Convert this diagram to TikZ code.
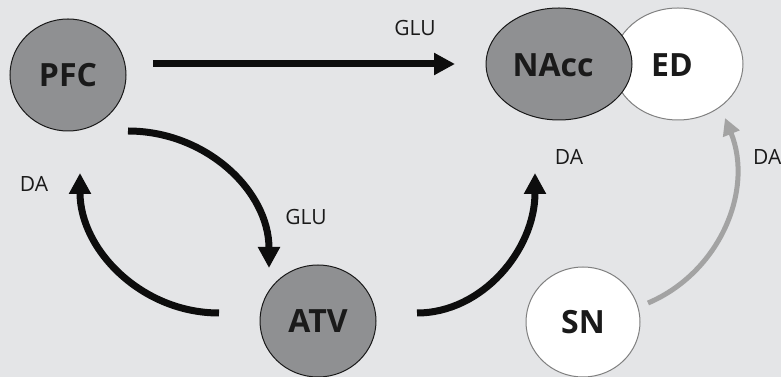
\documentclass[tikz,border=0pt]{standalone}
\usepackage{fontspec}
\setmainfont{Open Sans}
\usetikzlibrary{shapes.geometric,arrows.meta}
\definecolor{bgc}{HTML}{E4E5E7}
\definecolor{nodegray}{HTML}{8F9092}
\definecolor{arrgray}{HTML}{A3A3A3}
\definecolor{txt}{HTML}{1A1A1A}
\begin{document}
\begin{tikzpicture}[x=1pt,y=1pt,
  region/.style={ellipse,inner sep=0pt,line width=1pt,text=txt,font=\fontsize{32}{32}\selectfont\bfseries},
  darkregion/.style={region,draw=black!90,fill=nodegray},
  lightregion/.style={region,draw=black!50,fill=white},
  bigtext/.style={text=txt,font=\fontsize{32}{32}\selectfont\bfseries},
  lbl/.style={text=txt,font=\fontsize{21}{21}\selectfont},
  blackarrow/.style={draw=black!95,line width=7pt,-{Triangle[length=21pt,width=21pt]}},
  grayarrow/.style={draw=arrgray,line width=5pt,-{Triangle[length=17pt,width=17pt]}}]
\fill[bgc] (0,0) rectangle (781,377);
\useasboundingbox (0,0) rectangle (781,377);
% nodes
\node[darkregion,minimum width=116pt,minimum height=112pt] (pfc) at (68,302) {PFC};
\node[lightregion,minimum width=130pt,minimum height=112pt] (ed) at (678,313) {};
\node[bigtext] (edt) at (672,312) {ED};
\node[darkregion,minimum width=146pt,minimum height=112pt] (nacc) at (559,313) {};
\node[bigtext] (nacct) at (553,312) {NAcc};
\node[darkregion,minimum width=116pt,minimum height=112pt] (atv) at (318,56) {ATV};
\node[lightregion,minimum width=114pt,minimum height=110pt] (sn) at (583,55) {SN};
% connector end points
\coordinate (pfcE) at (153,313);
\coordinate (naccW) at (455,313);
\coordinate (pfcSE) at (128,246);
\coordinate (atvN) at (269,109);
\coordinate (atvW) at (219,64);
\coordinate (pfcS) at (80,204);
\coordinate (atvE) at (417,64);
\coordinate (naccS) at (535,204);
\coordinate (snE) at (648,74);
\coordinate (edS) at (725,259);
% connectors
\draw[blackarrow] (pfcE) -- (naccW);
\draw[blackarrow] (pfcSE) .. controls (206,246) and (269,186) .. (atvN);
\draw[blackarrow] (atvW) .. controls (142,64) and (80,127) .. (pfcS);
\draw[blackarrow] (atvE) .. controls (482,64) and (535,127) .. (naccS);
\draw[grayarrow] (snE) .. controls (719.6,104.4) and (754.1,186.9) .. (edS);
% labels
\node[lbl] (glu1) at (415,349) {GLU};
\node[lbl] (glu2) at (306,160) {GLU};
\node[lbl] (da1) at (34,193) {DA};
\node[lbl] (da2) at (569,220) {DA};
\node[lbl,anchor=west,inner sep=0pt] (da3) at (753,220) {DA};
\end{tikzpicture}
\end{document}
